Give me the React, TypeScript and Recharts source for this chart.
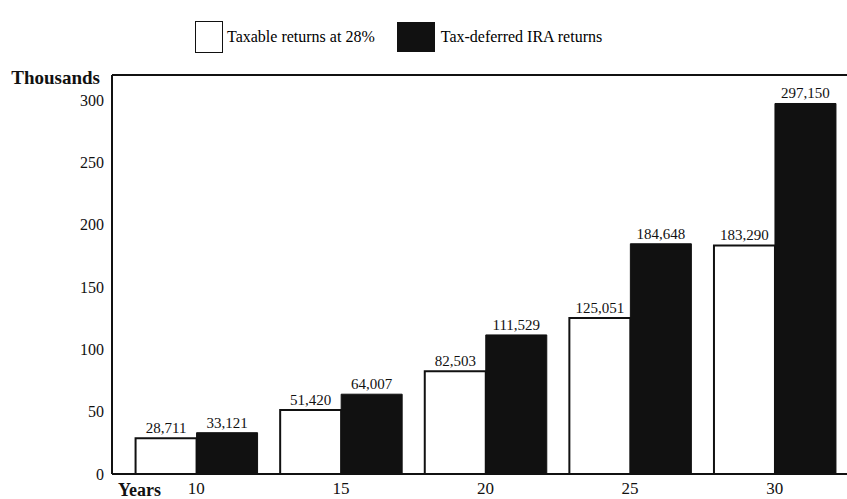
import React from 'react';
import { BarChart, Bar, XAxis, YAxis, Legend, LabelList, ReferenceLine } from 'recharts';

const years = ['10', '15', '20', '25', '30'];
const taxable = [28.711, 51.42, 82.503, 125.051, 183.29];
const deferred = [33.121, 64.007, 111.529, 184.648, 297.15];
const yTicks = [0, 50, 100, 150, 200, 250, 300];

const data = years.map((y, i) => ({ year: y, taxable: taxable[i], deferred: deferred[i] }));

const font = "'Liberation Serif', 'DejaVu Serif', serif";

const fmt = (v: any) => Math.round(Number(v) * 1000).toLocaleString('en-US');

const LegendBox = () => (
  <div style={{ display: 'flex', alignItems: 'center', fontFamily: font, fontSize: 16, height: 40, paddingLeft: 195 }}>
    <span style={{ width: 26, height: 30, border: '1.5px solid #111', background: '#fff', display: 'inline-block', marginRight: 4 }} />
    <span style={{ marginRight: 22 }}>Taxable returns at 28%</span>
    <span style={{ width: 38, height: 30, background: '#111', display: 'inline-block', marginRight: 6 }} />
    <span>Tax-deferred IRA returns</span>
  </div>
);

export default function App() {
  return (
    <div style={{ width: 847, height: 499, background: '#fff' }}>
      <style>{`body{margin:0}`}</style>
      <BarChart
        width={847}
        height={499}
        data={data}
        margin={{ top: 35, right: 0, bottom: 0, left: 0 }}
        barCategoryGap="8%"
        barGap={0}
      >
        <Legend verticalAlign="top" content={<LegendBox />} wrapperStyle={{ top: 17, left: 0, width: 847 }} />
        <XAxis
          dataKey="year"
          height={25}
          tickLine={false}
          axisLine={{ stroke: '#111', strokeWidth: 2 }}
          padding={{ left: 12, right: 0 }}
          tick={{ fill: '#111', fontSize: 17, fontFamily: font }}
          label={(props: any) => {
            const vb = props.viewBox;
            return (
              <text x={vb.x + 6} y={vb.y + 22} fontSize={18} fontWeight="bold" fontFamily={font} fill="#111">Years</text>
            );
          }}
        />
        <YAxis
          width={112}
          domain={[0, 320]}
          ticks={yTicks}
          tickLine={false}
          axisLine={{ stroke: '#111', strokeWidth: 2 }}
          tick={{ fill: '#111', fontSize: 16, fontFamily: font }}
          label={(props: any) => {
            const vb = props.viewBox;
            return (
              <text x={vb.x + vb.width - 12} y={vb.y + 9} textAnchor="end" fontSize={19} fontWeight="bold" fontFamily={font} fill="#111">Thousands</text>
            );
          }}
        />
        <ReferenceLine y={320} stroke="#111" strokeWidth={2} />
        <Bar dataKey="taxable" fill="#fff" stroke="#111" strokeWidth={2} isAnimationActive={false}>
          <LabelList dataKey="taxable" position="top" formatter={fmt} fill="#111" fontSize={15} fontFamily={font} />
        </Bar>
        <Bar dataKey="deferred" fill="#111" stroke="#111" strokeWidth={1} isAnimationActive={false}>
          <LabelList dataKey="deferred" position="top" formatter={fmt} fill="#111" fontSize={15} fontFamily={font} />
        </Bar>
      </BarChart>
    </div>
  );
}
